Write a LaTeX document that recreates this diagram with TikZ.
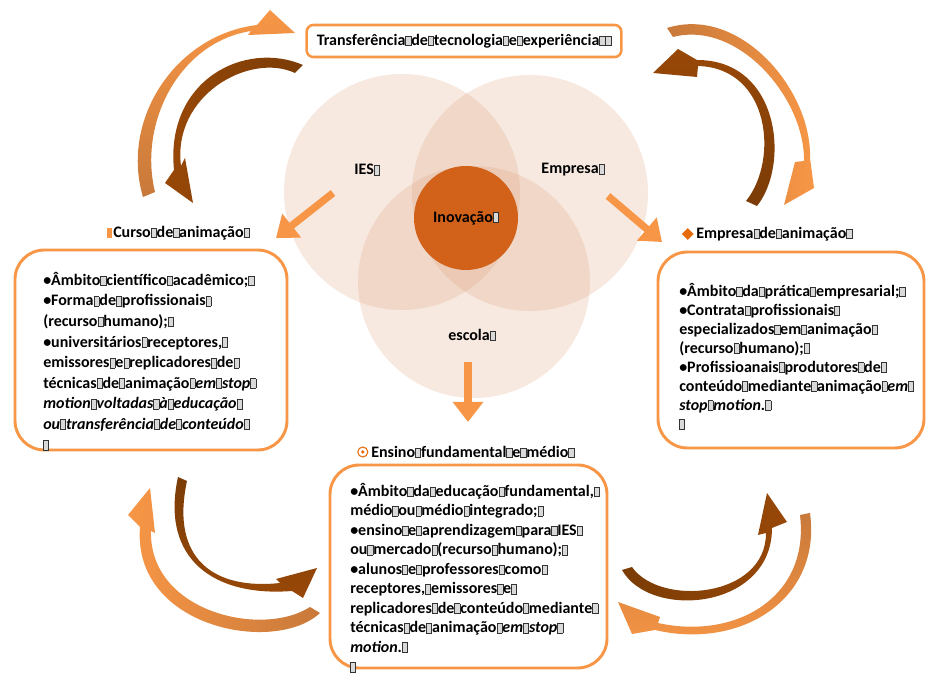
\documentclass[tikz,border=0pt]{standalone}
\usepackage{fontspec}
\setmainfont{Carlito}
\usetikzlibrary{positioning,arrows.meta,shapes.geometric}
\definecolor{my orange}{HTML}{F79646}
\definecolor{my tan}{HTML}{C8793A}
\definecolor{my brown}{HTML}{984807}
\definecolor{my dark}{HTML}{7A3C06}
\definecolor{my peach}{HTML}{D99870}
\definecolor{my core}{HTML}{D2621A}
\definecolor{my deep}{HTML}{E46C0A}
% box that stands where a glyph is missing
\newcommand{\gly}{{\fboxsep=0pt\fboxrule=0.5pt\fcolorbox{black!80}{black!15}{\rule{0pt}{6.8pt}\hspace{3.4pt}}}}
\tikzset{
  card/.style={draw=my orange, line width=2.2pt, rounded corners=22pt, fill=white},
  body/.style={anchor=north west, inner sep=0pt, align=left, font={\fontsize{12}{#1}\selectfont\bfseries}},
  title/.style={anchor=west, inner sep=0pt, font={\fontsize{12}{14}\selectfont\bfseries}},
  venn/.style={fill=my peach, fill opacity=0.22},
  straight/.style={draw=my orange, line width=5.5pt, -{Triangle[width=22pt,length=15pt]}}
}
\begin{document}
\begin{tikzpicture}[x=0.75pt,y=-0.75pt]
\useasboundingbox (0,0) rectangle (926,673);

% circles
\fill[venn] (402,192) circle [radius=118];
\fill[venn] (530,193) circle [radius=118];
\fill[venn] (474,282) circle [radius=116];
\node[circle, fill=my core, minimum size=78pt, inner sep=0pt, font={\fontsize{12}{14}\selectfont\bfseries}] (core) at (466,218) {Inovação\gly};
\node[title, anchor=center] (ies) at (367,170) {IES\gly};
\node[title, anchor=center] (empresa) at (573,170) {Empresa\gly};
\node[title, anchor=center] (escola) at (472,335) {escola\gly};

% top box
\node[draw=my orange, line width=1.9pt, rounded corners=5pt, fill=white, minimum width=236pt, minimum height=24pt, font={\fontsize{12}{14}\selectfont\bfseries}] (transfer) at (464,41) {Transferência\gly de\gly tecnologia\gly e\gly experiência\gly\gly};

% cards
\node[card, minimum width=204pt, minimum height=150pt] (curso card) at (151,350) {};
\node[card, minimum width=199.5pt, minimum height=147pt] (empresa card) at (791,350) {};
\node[card, minimum width=207.75pt, minimum height=152.25pt] (ensino card) at (468.5,566.5) {};

\node[body=15.4pt] (curso text) at (43,272) {%
•Âmbito\gly científico\gly acadêmico;\gly\\
•Forma\gly de\gly profissionais\gly\\
(recurso\gly humano);\gly\\
•universitários\gly receptores,\gly\\
emissores\gly e\gly replicadores\gly de\gly\\
técnicas\gly de\gly animação\gly\textit{em\gly stop\gly}\\
\textit{motion\gly voltadas\gly à\gly educação\gly}\\
\textit{ou\gly transferência\gly de\gly conteúdo\gly}\\
\gly};
\node[body=14.2pt] (empresa text) at (679,283) {%
•Âmbito\gly da\gly prática\gly empresarial;\gly\\
•Contrata\gly profissionais\gly\\
especializados\gly em\gly animação\gly\\
(recurso\gly humano);\gly\\
•Profissioanais\gly produtores\gly de\gly\\
conteúdo\gly mediante\gly animação\gly\textit{em}\gly\\
\textit{stop\gly motion.}\gly\\
\gly};
\node[body=14.6pt] (ensino text) at (350,483) {%
•Âmbito\gly da\gly educação\gly fundamental,\gly\\
médio\gly ou\gly médio\gly integrado;\gly\\
•ensino\gly e\gly aprendizagem\gly para\gly IES\gly\\
ou\gly mercado\gly(recurso\gly humano);\gly\\
•alunos\gly e\gly professores\gly como\gly\\
receptores,\gly emissores\gly e\gly\\
replicadores\gly de\gly conteúdo\gly mediante\gly\\
técnicas\gly de\gly animação\gly\textit{em\gly stop\gly}\\
\textit{motion.}\gly\\
\gly};

% headings
\node[title] (curso) at (113,233) {Curso\gly de\gly animação\gly};
\node[fill=my orange, minimum width=4pt, minimum height=7pt, inner sep=0pt, left=0.5pt of curso] (curso mark) {};
\node[title] (empresa head) at (696,234) {Empresa\gly de\gly animação\gly};
\node[diamond, fill=my deep, minimum size=9pt, inner sep=0pt, left=1.5pt of empresa head] (empresa mark) {};
\node[title] (ensino) at (371,452) {Ensino\gly fundamental\gly e\gly médio\gly};
\node[circle, draw=my deep, line width=0.8pt, minimum size=7.5pt, inner sep=0pt, left=2pt of ensino] (ensino mark) {};
\fill[my deep] (ensino mark) circle [radius=1.8];

% straight arrows
\coordinate (ies tail) at (333,193);
\coordinate (ies tip) at (276,238);
\coordinate (emp tail) at (608,196);
\coordinate (emp tip) at (662,242);
\coordinate (esc tail) at (468,362);
\coordinate (esc tip) at (468,422);
\draw[straight] (ies tail) -- (ies tip);
\draw[straight] (emp tail) -- (emp tip);
\draw[straight] (esc tail) -- (esc tip);

% bent arrows
\shade[top color=my orange, bottom color=my tan] (143,197) .. controls (120,120) and (175,35) .. (257,25) -- (270,10) -- (295,33) -- (248,35) -- (251,31) .. controls (180,42) and (138,122) .. (155,192) -- cycle;
\shade[left color=my brown, right color=my dark] (303,65) .. controls (245,40) and (165,80) .. (174,170) -- (165,183) -- (193,203) -- (185,158) -- (181,166) .. controls (172,95) and (250,52) .. (295,73) -- cycle;
\shade[left color=my tan, right color=my orange] (667,28) .. controls (740,5) and (812,90) .. (810,158) -- (814,188) -- (784,205) -- (795,162) -- (804,161) .. controls (805,98) and (738,20) .. (673,37) -- cycle;
\shade[top color=my brown, bottom color=my dark] (757,206) .. controls (790,165) and (780,60) .. (697,60) -- (678,49) -- (653,73) -- (697,77) -- (698,66) .. controls (770,68) and (779,160) .. (746,201) -- cycle;
\shade[top color=my dark, bottom color=my brown] (178,477) .. controls (160,560) and (215,597) .. (292,591) -- (303,598) -- (317,568) -- (276,579) -- (280,583) .. controls (215,590) and (170,560) .. (187,481) -- cycle;
\shade[left color=my orange, right color=my tan] (320,613) .. controls (275,655) and (132,628) .. (140,527) -- (128,515) -- (150,488) -- (155,533) -- (151,531) .. controls (149,612) and (262,638) .. (310,607) -- cycle;
\shade[left color=my dark, right color=my brown] (622,570) .. controls (650,620) and (772,610) .. (772,528) -- (787,522) -- (767,493) -- (758,535) -- (766,533) .. controls (766,598) and (660,607) .. (632,567) -- cycle;
\shade[top color=my tan, bottom color=my orange] (810,513) .. controls (822,600) and (740,650) .. (655,630) -- (632,634) -- (618,602) -- (660,617) -- (658,623) .. controls (735,640) and (810,598) .. (800,515) -- cycle;
\end{tikzpicture}
\end{document}
